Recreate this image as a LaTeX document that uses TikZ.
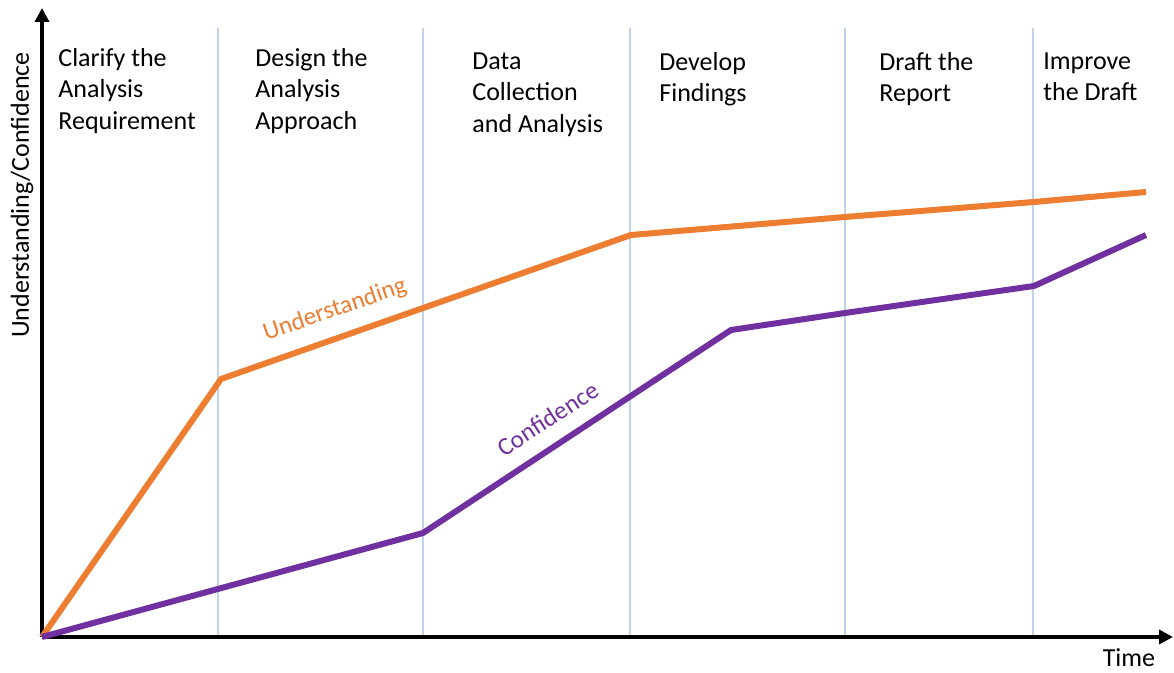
\documentclass[tikz,border=0pt]{standalone}
\usepackage{fontspec}
\setmainfont{Carlito}
\usetikzlibrary{arrows.meta}
\definecolor{understandcol}{HTML}{ED7D31}
\definecolor{confidencecol}{HTML}{7030A0}
\definecolor{phasecol}{RGB}{190,212,235}

\begin{document}
\begin{tikzpicture}[x=0.5pt, y=-0.5pt,
                    axis/.style={line width=2pt, -{Triangle[length=7pt,width=7pt]}},
                    phase/.style={line width=0.6pt, phasecol},
                    phaselabel/.style={anchor=north west, align=left, inner sep=0, font=\fontsize{13}{15.75}\selectfont,
                                       execute at begin node={\vphantom{lf}}},
                    curve/.style={line width=3pt, line join=round, #1},
                    curvelabel/.style={inner sep=0, font=\fontsize{12.5}{15}\selectfont, #1}
                    ]
    \useasboundingbox (0,0) rectangle (1174,673);
    %phase separators
    \foreach \x in {218,423,630,845,1033}
        \draw[phase] (\x,28) -- (\x,637);

    %phase labels
    \node[phaselabel] at (58,48)   (clarify) {Clarify the\\Analysis\\Requirement};
    \node[phaselabel] at (255,48)  (design)  {Design the\\Analysis\\Approach};
    \node[phaselabel] at (472,52)  (data)    {Data\\Collection\\and Analysis};
    \node[phaselabel] at (659,52)  (develop) {Develop\\Findings};
    \node[phaselabel] at (879,52)  (draft)   {Draft the\\Report};
    \node[phaselabel] at (1043,52) (improve) {Improve\\the Draft};

    %axes
    \coordinate (O) at (42,637);
    \coordinate (ytop) at (42,8);
    \coordinate (xend) at (1173,637);
    \draw[axis] (O) -- (ytop);
    \draw[axis] (O) -- (xend);
    \node[rotate=90, inner sep=0, font=\fontsize{13}{15.75}\selectfont] at (22,195) (ylabel) {Understanding/Confidence};
    \node[anchor=base, inner sep=0, font=\fontsize{13}{15.75}\selectfont] at (1129,667) (time) {Time};

    %curves
    \draw[curve=understandcol] (O) -- (221,379) -- (631,235) -- (845,217) -- (1034,202) -- (1146,192);
    \draw[curve=confidencecol] (O) -- (423,533) -- (731,330) -- (845,313) -- (1034,286) -- (1146,235);

    \node[curvelabel=understandcol, rotate=19] at (335,310) (understand) {Understanding};
    \node[curvelabel=confidencecol, rotate=33] at (548,419) (confid) {Confidence};

\end{tikzpicture}
\end{document}
